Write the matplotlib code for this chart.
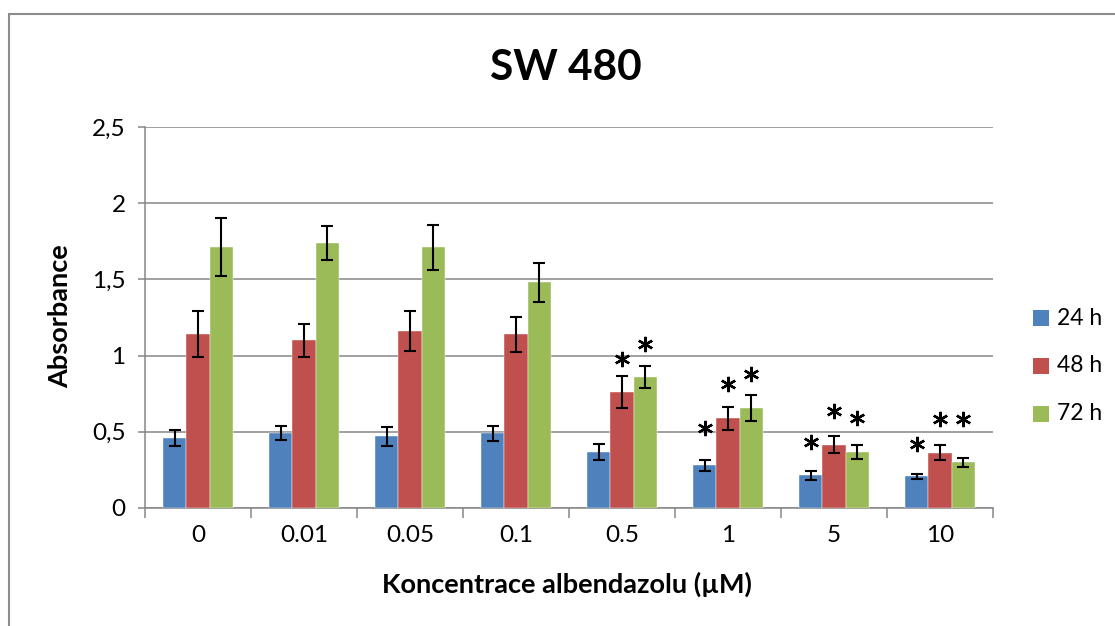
import matplotlib
matplotlib.use("Agg")
import matplotlib.pyplot as plt
import numpy as np
from matplotlib.patches import Rectangle

plt.rcParams['font.family'] = ['Lato', 'DejaVu Sans']

categories = ['0', '0.01', '0.05', '0.1', '0.5', '1', '5', '10']
series_names = ['24 h', '48 h', '72 h']
colors = ['#4F81BD', '#C0504D', '#9BBB59']

vals_24 = [0.46, 0.49, 0.47, 0.49, 0.365, 0.28, 0.215, 0.207]
err_24 = [0.05, 0.045, 0.06, 0.05, 0.053, 0.035, 0.028, 0.017]
vals_48 = [1.14, 1.10, 1.16, 1.14, 0.76, 0.59, 0.415, 0.363]
err_48 = [0.15, 0.11, 0.13, 0.115, 0.107, 0.075, 0.057, 0.05]
vals_72 = [1.71, 1.74, 1.71, 1.48, 0.86, 0.655, 0.367, 0.30]
err_72 = [0.19, 0.11, 0.15, 0.13, 0.07, 0.085, 0.044, 0.03]

# significance stars: (category index, series index, y position of star)
star_cat = [4, 4, 5, 5, 5, 6, 6, 6, 7, 7, 7]
star_ser = [1, 2, 0, 1, 2, 0, 1, 2, 0, 1, 2]
star_y = [0.977, 1.075, 0.523, 0.811, 0.877, 0.435, 0.636, 0.588, 0.422, 0.586, 0.586]

yticks = [0, 0.5, 1, 1.5, 2, 2.5]
ytick_labels = ['0', '0,5', '1', '1,5', '2', '2,5']

W, H = 1115, 626
fig = plt.figure(figsize=(W / 100, H / 100), dpi=100)
ax = fig.add_axes([145 / W, 1 - 508 / H, (993 - 145) / W, (508 - 127) / H])

x = np.arange(len(categories))
bw = 0.217
all_vals = [vals_24, vals_48, vals_72]
all_errs = [err_24, err_48, err_72]
for i, (v, e) in enumerate(zip(all_vals, all_errs)):
    ax.bar(x + (i - 1) * bw, v, width=bw, color=colors[i], zorder=3,
           edgecolor='white', linewidth=0.3)
    ax.errorbar(x + (i - 1) * bw, v, yerr=e, fmt='none', ecolor='black',
                elinewidth=1.5, capsize=4.3, capthick=1.5, zorder=4)

for c, s, yy in zip(star_cat, star_ser, star_y):
    ax.plot(c + (s - 1) * bw, yy, marker=(6, 2, 0), markersize=11,
            markeredgewidth=1.7, color='black', linestyle='none', zorder=5)

ax.set_xlim(-0.5, len(categories) - 0.5)
ax.set_ylim(0, 2.5)
ax.set_yticks(yticks)
ax.set_yticklabels(ytick_labels)
ax.set_xticks(np.arange(len(categories) + 1) - 0.5)
ax.set_xticklabels([])
ax.set_xticks(x, minor=True)
ax.set_xticklabels(categories, minor=True)
ax.tick_params(axis='x', which='major', length=7, width=1.1, color='#868686', direction='out')
ax.tick_params(axis='x', which='minor', length=0, pad=12, labelsize=17.5)
ax.tick_params(axis='y', length=5, width=1.1, color='#868686', direction='out', pad=9, labelsize=17.5)

ax.yaxis.grid(True, color='#868686', linewidth=1.1, zorder=0)
ax.set_axisbelow(True)
for sp in ['top', 'right']:
    ax.spines[sp].set_visible(False)
for sp in ['left', 'bottom']:
    ax.spines[sp].set_color('#868686')
    ax.spines[sp].set_linewidth(1.1)

fig.text(566 / W, 1 - 68 / H, 'SW 480', ha='center', va='center', fontsize=30.5, fontweight='bold')
fig.text(567 / W, 1 - 584 / H, 'Koncentrace albendazolu (µM)', ha='center', va='center',
         fontsize=19.5, fontweight='bold')
fig.text(60 / W, 1 - 316 / H, 'Absorbance', ha='center', va='center', rotation=90,
         fontsize=19.5, fontweight='bold')

# legend
leg_y = [318, 366, 414]
for name, col, yy in zip(series_names, colors, leg_y):
    fig.patches.append(Rectangle((1033 / W, 1 - (yy + 8) / H), 16 / W, 16 / H,
                                 transform=fig.transFigure, facecolor=col, edgecolor='none'))
    fig.text(1057 / W, 1 - yy / H, name, ha='left', va='center', fontsize=16.5)

# outer chart border
fig.patches.append(Rectangle((9 / W, -0.1), 1.2, 1 - 14 / H + 0.1, transform=fig.transFigure,
                             facecolor='none', edgecolor='#8c8c8c', linewidth=1.5))

fig.savefig('out.png', dpi=100)
